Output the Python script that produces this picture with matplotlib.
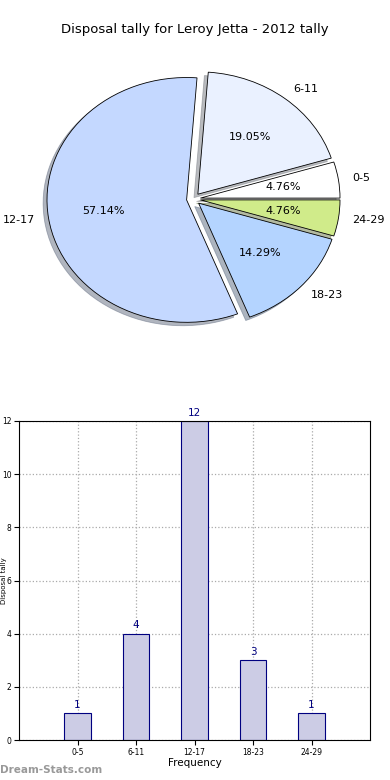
import numpy as np
import matplotlib
matplotlib.use('Agg')
import matplotlib.pyplot as plt

title = 'Disposal tally for Leroy Jetta - 2012 tally'
groups = ['0-5', '6-11', '12-17', '18-23', '24-29']
counts = [1, 4, 12, 3, 1]
pie_colors = ['#ffffff', '#eaf1ff', '#c4d8ff', '#b4d4ff', '#d0eb8a']

fig = plt.figure(figsize=(3.9, 7.8), dpi=100)

# pie on top (old style, not equal aspect)
ax1 = fig.add_axes([19/390, 1 - 352/780, 349/390, 306/780])
wedges, texts, autotexts = ax1.pie(counts, labels=groups, colors=pie_colors,
                                   explode=[0.05]*5, autopct='%.2f%%',
                                   shadow={'ox': -0.02, 'oy': -0.02, 'shade': 0.5},
                                   startangle=0, counterclock=True,
                                   wedgeprops=dict(edgecolor='black', linewidth=0.6),
                                   textprops=dict(fontsize=8))
ax1.set_aspect('auto')
ax1.set_xlim(-1.25, 1.25)
ax1.set_ylim(-1.25, 1.25)
ax1.axis('off')
fig.text(0.5, 1 - 30/780, title, ha='center', va='center', fontsize=9.5)

# bar chart
ax2 = fig.add_axes([19/390, 1 - 740/780, 351/390, 319/780])
x = np.arange(len(groups))
ax2.bar(x, counts, width=0.45, color='#ccccE5', edgecolor='navy', linewidth=0.8, zorder=2)
for xi, c in zip(x, counts):
    ax2.text(xi, c + 0.12, str(c), ha='center', va='bottom', color='navy', fontsize=7.5)
ax2.set_xlim(-1, 5)
ax2.set_ylim(0, 12)
ax2.set_xticks(x)
ax2.set_xticklabels(groups, fontsize=5.5)
ax2.set_yticks(range(0, 13, 2))
ax2.tick_params(axis='y', labelsize=5.5, pad=2)
ax2.tick_params(axis='x', pad=2)
ax2.grid(True, linestyle=':', color='#aaaaaa', linewidth=0.9, zorder=0)
ax2.set_axisbelow(True)
ax2.set_xlabel('Frequency', fontsize=7.5, labelpad=1)
ax2.set_ylabel('Disposal tally', fontsize=5)
ax2.yaxis.set_label_coords(-11.5/351, 0.5)

fig.text(0.0, 1 - 770/780, 'Dream-Stats.com', ha='left', va='center',
         fontsize=7.5, color='#999999', fontweight='bold')

fig.savefig('out.png', dpi=100)
